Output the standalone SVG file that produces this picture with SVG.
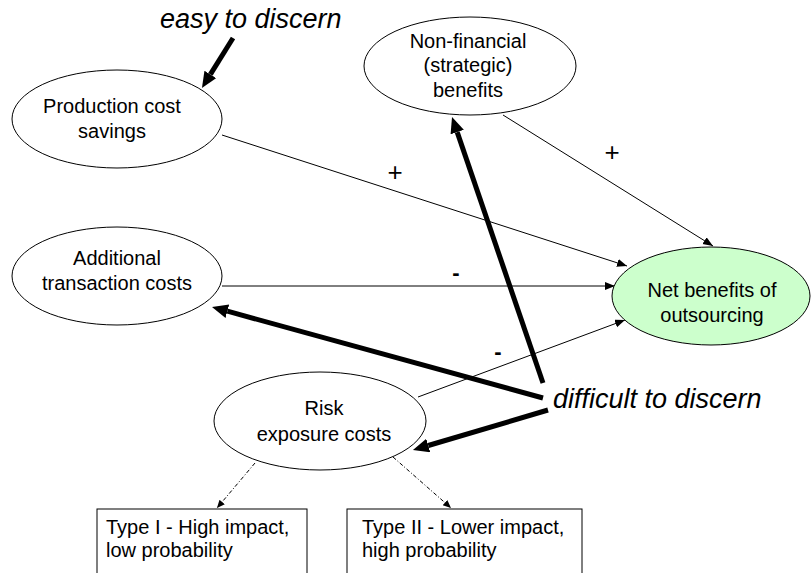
<svg xmlns="http://www.w3.org/2000/svg" width="812" height="573" viewBox="0 0 812 573">
<style>
.node ellipse{stroke:#000;stroke-width:1;fill:#fff}
.node rect{stroke:#000;stroke-width:1;fill:#fff}
text{font-family:"Liberation Sans",Arial,sans-serif;fill:#000}
.lbl{font-size:20px;text-anchor:middle}
.box{font-size:20px}
.note{font-size:27px;font-style:italic}
.sign{font-size:22px;font-weight:bold;text-anchor:middle}
.plus{font-size:26px;text-anchor:middle}
.thin{stroke:#000;stroke-width:1;fill:none;marker-end:url(#ah)}
.dash{stroke:#000;stroke-width:1;fill:none;stroke-dasharray:4 2 1 2;marker-end:url(#ahs)}
.thick{stroke:#000;stroke-width:5;fill:none;marker-end:url(#ahb)}
</style>
<defs>
<marker id="ah" markerUnits="userSpaceOnUse" markerWidth="11" markerHeight="9" refX="10" refY="4" orient="auto"><path d="M0,0 L10,4 L0,8 z" fill="#000"/></marker>
<marker id="ahs" markerUnits="userSpaceOnUse" markerWidth="9" markerHeight="8" refX="8" refY="3.5" orient="auto"><path d="M0,0 L8,3.5 L0,7 z" fill="#000"/></marker>
<marker id="ahb" markerUnits="userSpaceOnUse" markerWidth="17" markerHeight="15" refX="0" refY="7" orient="auto"><path d="M0,0 L16,7 L0,14 z" fill="#000"/></marker>
</defs>
<g id="connectors">
<line class="thin" x1="222" y1="135" x2="627" y2="266"/>
<line class="thin" x1="503" y1="115" x2="713" y2="246"/>
<line class="thin" x1="222" y1="286" x2="615" y2="286"/>
<line class="thin" x1="418" y1="397" x2="625" y2="320"/>
<line class="dash" x1="255" y1="463" x2="217" y2="508"/>
<line class="dash" x1="393" y1="457" x2="451" y2="508"/>
<line class="thick" x1="233" y1="38" x2="210.4" y2="74.4"/>
<line class="thick" x1="543" y1="383" x2="457.2" y2="132.1"/>
<line class="thick" x1="543" y1="398" x2="227.4" y2="311.2"/>
<line class="thick" x1="548" y1="410" x2="428.3" y2="445.5"/>
<text class="plus" x="395" y="181">+</text>
<text class="plus" x="612" y="161">+</text>
<text class="sign" x="456" y="280">-</text>
<text class="sign" x="498" y="359">-</text>
</g>
<g id="easy"><text class="note" x="160" y="28">easy to discern</text></g>
<g id="difficult"><text class="note" x="553" y="408">difficult to discern</text></g>
<g id="production" class="node">
<ellipse cx="117" cy="119" rx="105" ry="49"/>
<text class="lbl" x="112" y="113">Production cost</text>
<text class="lbl" x="112" y="138">savings</text>
</g>
<g id="nonfinancial" class="node">
<ellipse cx="470" cy="66" rx="106" ry="49"/>
<text class="lbl" x="468" y="48">Non-financial</text>
<text class="lbl" x="468" y="72">(strategic)</text>
<text class="lbl" x="468" y="97">benefits</text>
</g>
<g id="additional" class="node">
<ellipse cx="117" cy="276" rx="105" ry="49"/>
<text class="lbl" x="117" y="265">Additional</text>
<text class="lbl" x="117" y="290">transaction costs</text>
</g>
<g id="netbenefits" class="node">
<ellipse cx="711" cy="296" rx="99" ry="49" style="fill:#ccffcc"/>
<text class="lbl" x="712" y="297">Net benefits of</text>
<text class="lbl" x="712" y="322">outsourcing</text>
</g>
<g id="risk" class="node">
<ellipse cx="320" cy="421" rx="106" ry="49"/>
<text class="lbl" x="324" y="415">Risk</text>
<text class="lbl" x="324" y="441">exposure costs</text>
</g>
<g id="type1" class="node">
<rect x="97" y="509" width="210" height="80"/>
<text class="box" x="106" y="534">Type I - High impact,</text>
<text class="box" x="106" y="557">low probability</text>
</g>
<g id="type2" class="node">
<rect x="347" y="509" width="235" height="80"/>
<text class="box" x="362" y="534">Type II - Lower impact,</text>
<text class="box" x="362" y="557">high probability</text>
</g>
</svg>
